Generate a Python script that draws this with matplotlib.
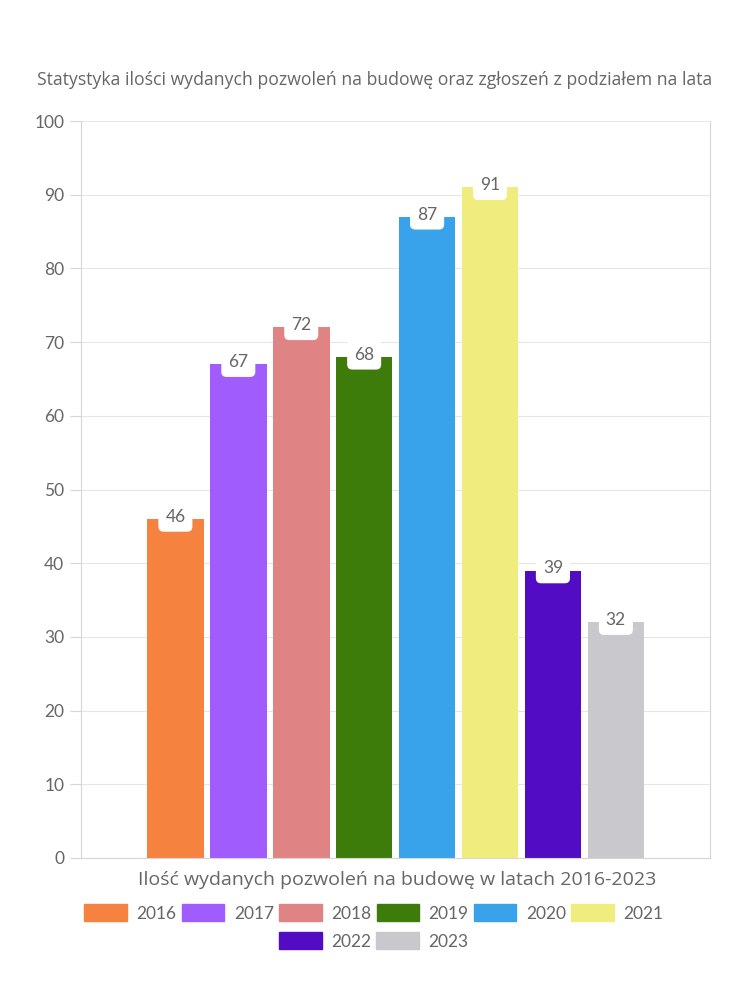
import matplotlib.pyplot as plt
from matplotlib.patches import Patch

years = ['2016', '2017', '2018', '2019', '2020', '2021', '2022', '2023']
values = [46, 67, 72, 68, 87, 91, 39, 32]
colors = ['#f5833f', '#a05cfc', '#e08385', '#3d7c0b', '#38a2ea', '#f0ec7d', '#520cc3', '#c9c9cd']

title = 'Statystyka ilości wydanych pozwoleń na budowę oraz zgłoszeń z podziałem na lata'
xlabel = 'Ilość wydanych pozwoleń na budowę w latach 2016-2023'

plt.rcParams['font.family'] = ['Lato', 'DejaVu Sans']
txt = '#666666'
grid = '#e6e6e6'

fig = plt.figure(figsize=(7.5, 10), dpi=100)
ax = fig.add_axes([0.108, 0.142, 0.839, 0.737])

n = len(years)
slot = 0.8 / n
for i, (y, v, c) in enumerate(zip(years, values, colors)):
    x = -0.4 + slot * (i + 0.5)
    ax.bar(x, v, width=slot * 0.9, color=c, zorder=2)
    ax.text(x, v + 0.3, str(v), ha='center', va='center', fontsize=12.5, color=txt, zorder=4,
            bbox=dict(boxstyle='round,pad=0.4,rounding_size=0.3', fc='white', ec='none'))

ax.set_xlim(-0.5, 0.5)
ax.set_ylim(0, 100)
ax.set_yticks(range(0, 101, 10))
ax.set_xticks([])
ax.yaxis.grid(True, color=grid, linewidth=0.8, zorder=0)
for s in ['left', 'right', 'bottom']:
    ax.spines[s].set_color('#d6d6d6')
ax.spines['top'].set_visible(False)
ax.tick_params(axis='y', colors='#d6d6d6', labelcolor=txt, labelsize=12.5, length=8, pad=4)

fig.text(0.5, 0.92, title, ha='center', va='center', fontsize=12.7, color=txt,
         family=['Open Sans', 'DejaVu Sans'])
fig.text(0.53, 0.12, xlabel, ha='center', va='center', fontsize=14, color=txt,
         family=['Open Sans', 'DejaVu Sans'])

h = [Patch(color=c) for c in colors]
kw = dict(frameon=False, fontsize=12.5, labelcolor=txt, handlelength=2.45, handleheight=1.1,
          handletextpad=0.55, columnspacing=0.3, loc='center')
fig.legend(h[:6], years[:6], ncol=6, bbox_to_anchor=(0.4985, 0.087), **kw)
fig.legend(h[6:], years[6:], ncol=2, bbox_to_anchor=(0.4985, 0.059), **kw)

fig.savefig('out.png')
